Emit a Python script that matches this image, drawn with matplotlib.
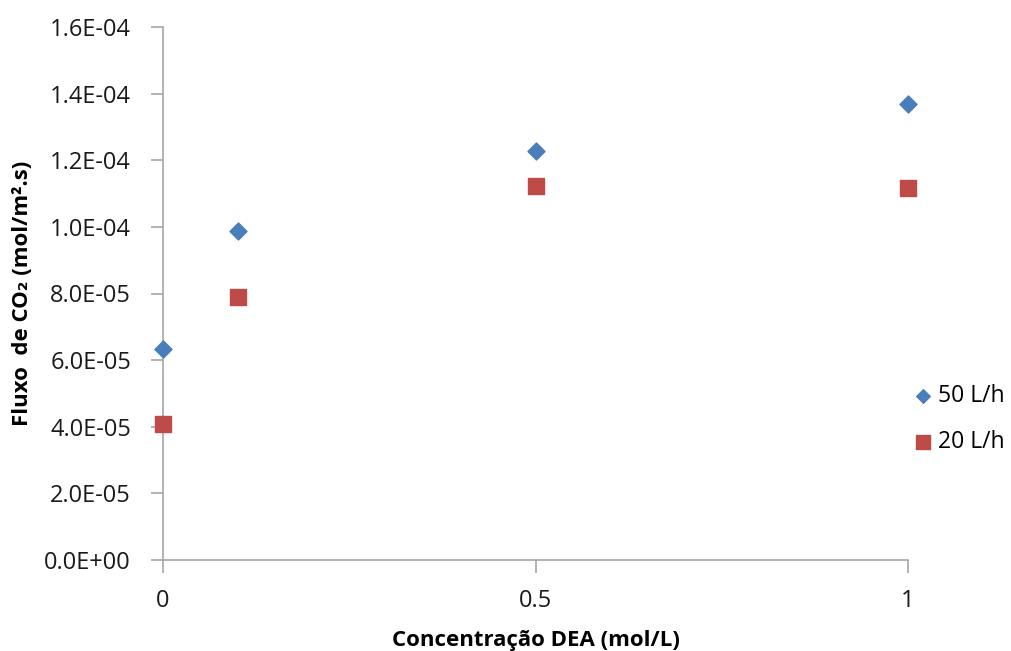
import matplotlib
matplotlib.use("Agg")
import matplotlib.pyplot as plt
from matplotlib.ticker import FuncFormatter

plt.rcParams['font.family'] = ['Open Sans', 'DejaVu Sans']

# data
conc = [0, 0.1, 0.5, 1]
flux_50 = [6.32e-05, 9.87e-05, 1.229e-04, 1.368e-04]
flux_20 = [4.07e-05, 7.88e-05, 1.124e-04, 1.116e-04]
yticks = [0, 2e-05, 4e-05, 6e-05, 8e-05, 1e-04, 1.2e-04, 1.4e-04, 1.6e-04]
xticks = [0, 0.5, 1]
xtick_labels = ["0", "0.5", "1"]

fig = plt.figure(figsize=(10.11, 6.51), dpi=100)
ax = fig.add_axes([163/1011, 91/651, 745/1011, 533/651])

ax.scatter(conc, flux_50, marker="D", s=75, color="#4a7ebb", label="50 L/h", zorder=3, clip_on=False)
ax.scatter(conc, flux_20, marker="s", s=145, color="#be4b48", label="20 L/h", zorder=3, clip_on=False)

ax.set_xlim(0, 1)
ax.set_ylim(0, 1.6e-04)
ax.set_xticks(xticks)
ax.set_xticklabels(xtick_labels)
ax.set_yticks(yticks)

def sci_fmt(v, pos):
	s = "%.1E" % v
	mant, ex = s.split("E")
	return mant + "E" + ex[0] + ex[1:].zfill(2)
#end_def

ax.yaxis.set_major_formatter(FuncFormatter(sci_fmt))

for side in ["top", "right"]:
	ax.spines[side].set_visible(False)
#end_for
for side in ["left", "bottom"]:
	ax.spines[side].set_color("#a6a6a6")
	ax.spines[side].set_linewidth(1.2)
#end_for

ax.tick_params(axis="both", colors="#a6a6a6", labelcolor="#1a1a1a", labelsize=17, length=9, width=1.2)
ax.tick_params(axis="y", pad=14)
ax.tick_params(axis="x", pad=12)

ax.set_xlabel("Concentração DEA (mol/L)", fontsize=16, fontweight="bold", labelpad=12)
ax.set_ylabel("Fluxo  de CO₂ (mol/m².s)", fontsize=16, fontweight="bold", labelpad=8)

fig.legend(loc="center left", bbox_to_anchor=(908/1011, 1 - 419/651), frameon=False,
	fontsize=16.5, handletextpad=0.0, labelspacing=0.95, handlelength=1.3, markerscale=0.8,
	borderaxespad=0, borderpad=0)

fig.savefig("out.png", dpi=100)
